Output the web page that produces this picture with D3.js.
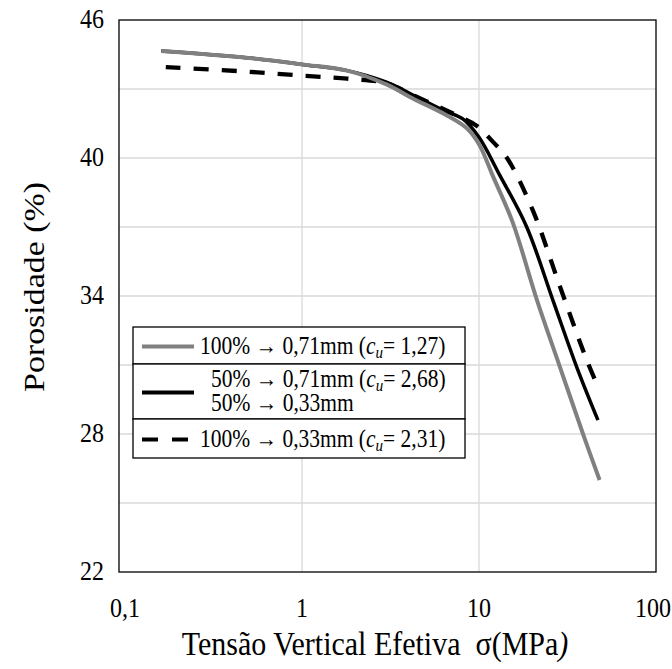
<!DOCTYPE html>
<html>
<head>
<meta charset="utf-8">
<script src="https://d3js.org/d3.v7.min.js"></script>
<style>
  body { margin: 0; background: #fff; }
  text { font-family: "Liberation Serif", "Times New Roman", serif; }
</style>
</head>
<body>
<div id="chart"></div>
<script>
// series (sigma in MPa, porosity in %)
var sigmaA = [0.16, 0.5, 1, 1.8, 3, 4.2, 6.4, 8.5, 10, 12, 15.5, 21.3, 28.7, 38.7, 48];
var poroA  = [44.65, 44.35, 44.07, 43.8, 43.2, 42.6, 41.9, 41.3, 40.6, 39.2, 37.2, 33.8, 30.9, 28.0, 26.0];

var sigmaB = [0.16, 0.5, 1, 1.8, 3, 4.2, 6.4, 8.1, 10, 13, 18.6, 26.2, 35.7, 47];
var poroB  = [44.65, 44.35, 44.07, 43.8, 43.3, 42.75, 42.05, 41.7, 40.9, 39.3, 37.0, 33.8, 30.9, 28.6];

var sigmaC = [0.17, 0.5, 1, 1.8, 3, 4.2, 6.2, 8, 9.7, 12, 14.4, 20.2, 28.7, 40.7, 48];
var poroC  = [43.95, 43.75, 43.58, 43.45, 43.25, 42.75, 42.15, 41.75, 41.4, 40.7, 40.0, 37.7, 34.4, 31.2, 29.9];

var xTicks = [0.1, 1, 10, 100];
var xTickLabels = ["0,1", "1", "10", "100"];
var yTicks = [22, 28, 34, 40, 46];
var yGrid = [25, 28, 31, 34, 37, 40, 43];

var legendLabels = [
  ["100% \u2192 0,71mm (", "1,27)"],
  ["50% \u2192 0,71mm (", "2,68)", "50% \u2192 0,33mm"],
  ["100% \u2192 0,33mm (", "2,31)"]
];

var width = 672, height = 669;
var frame = {left: 119, right: 656, top: 20, bottom: 572};
var stretch = 1.13; // the figure's type looks taller than it is wide

var svg = d3.select("#chart").append("svg")
  .attr("width", width)
  .attr("height", height);

var x = d3.scaleLog().domain([0.1, 100]).range([125, 656]);
var y = d3.scaleLinear().domain([22, 46]).range([572, 20]);

function label(parent, px, py, size, anchor, rotate) {
  var g = parent.append("g")
    .attr("transform", "translate(" + px + "," + py + ") scale(1," + stretch + ")" + (rotate ? " rotate(-90)" : ""));
  return g.append("text")
    .attr("text-anchor", anchor)
    .style("font-size", size + "px");
}

// grid
svg.append("g").selectAll("line")
  .data(yGrid)
  .enter().append("line")
  .attr("x1", frame.left).attr("x2", frame.right)
  .attr("y1", d => y(d)).attr("y2", d => y(d))
  .attr("stroke", "#d9d9d9")
  .attr("stroke-width", 1.3);

svg.append("g").selectAll("line")
  .data([1, 10])
  .enter().append("line")
  .attr("x1", d => x(d)).attr("x2", d => x(d))
  .attr("y1", frame.top).attr("y2", frame.bottom)
  .attr("stroke", "#d9d9d9")
  .attr("stroke-width", 1.3);

// frame
svg.append("rect")
  .attr("x", frame.left).attr("y", frame.top)
  .attr("width", frame.right - frame.left)
  .attr("height", frame.bottom - frame.top)
  .attr("fill", "none")
  .attr("stroke", "#000")
  .attr("stroke-width", 1.3);

// tick labels
yTicks.forEach(function(d) {
  label(svg, 104, y(d) + 8, 24, "end").text(d);
});

xTicks.forEach(function(d, i) {
  var last = i === xTicks.length - 1;
  label(svg, last ? 671 : x(d), 617, 24, last ? "end" : "middle").text(xTickLabels[i]);
});

// axis titles
var xt = label(svg, 375, 655, 30, "middle").attr("xml:space", "preserve");
xt.append("tspan").text("Tens\u00e3o Vertical Efetiva  \u03c3(MPa");
xt.append("tspan").style("font-style", "italic").text(")");

label(svg, 44, 287, 30, "middle", true).text("Porosidade (%)");

// curves
var line = d3.line()
  .x(d => x(d[0]))
  .y(d => y(d[1]))
  .curve(d3.curveCatmullRom.alpha(0.5));

function pairs(s, p) {
  return s.map(function(v, i) { return [v, p[i]]; });
}

svg.append("path")
  .attr("d", line(pairs(sigmaC, poroC)))
  .attr("fill", "none")
  .attr("stroke", "#000")
  .attr("stroke-width", 4.3)
  .attr("stroke-dasharray", "15,13");

svg.append("path")
  .attr("d", line(pairs(sigmaB, poroB)))
  .attr("fill", "none")
  .attr("stroke", "#000")
  .attr("stroke-width", 3.5);

svg.append("path")
  .attr("d", line(pairs(sigmaA, poroA)))
  .attr("fill", "none")
  .attr("stroke", "#808080")
  .attr("stroke-width", 4);

// legend
var lg = svg.append("g");
var rows = [
  {top: 327, bottom: 364, color: "#808080", dash: null},
  {top: 364, bottom: 419, color: "#000", dash: null},
  {top: 419, bottom: 458, color: "#000", dash: "16,14"}
];

rows.forEach(function(r, i) {
  lg.append("rect")
    .attr("x", 133).attr("y", r.top)
    .attr("width", 332).attr("height", r.bottom - r.top)
    .attr("fill", "#fff")
    .attr("stroke", "#000")
    .attr("stroke-width", 1.3);

  var cy = (r.top + r.bottom) / 2 + 1;
  lg.append("line")
    .attr("x1", 142).attr("x2", 194)
    .attr("y1", cy).attr("y2", cy)
    .attr("stroke", r.color)
    .attr("stroke-width", 4)
    .attr("stroke-dasharray", r.dash);

  var lab = legendLabels[i];
  var tx = i === 1 ? 211 : 200;
  var ty = i === 1 ? cy - 6 : cy + 7;
  var t = label(lg, tx, ty, 21.5, "start");
  t.append("tspan").text(lab[0]);
  t.append("tspan").style("font-style", "italic").text("c");
  t.append("tspan").style("font-style", "italic").style("font-size", "15px").attr("dy", 4).text("u");
  t.append("tspan").attr("dy", -4).text("= " + lab[1]);

  if (lab[2]) {
    label(lg, tx, ty + 24, 21.5, "start").text(lab[2]);
  }
});
</script>
</body>
</html>
